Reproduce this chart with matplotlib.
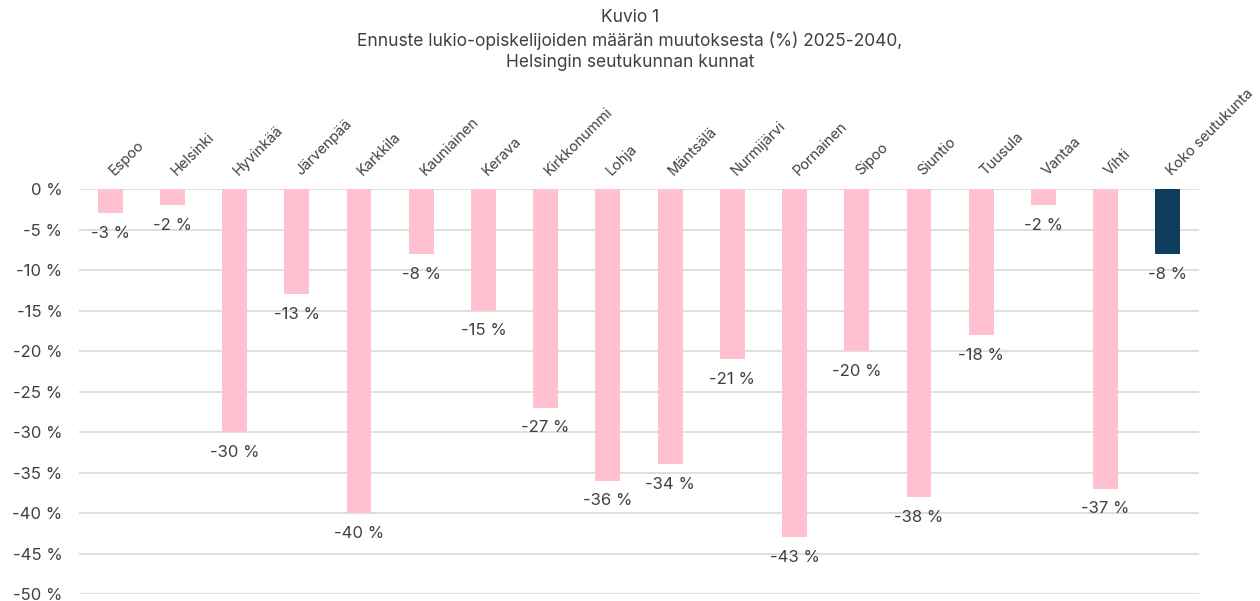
import matplotlib.pyplot as plt
import numpy as np

kunnat = ['Espoo', 'Helsinki', 'Hyvinkää', 'Järvenpää', 'Karkkila', 'Kauniainen',
          'Kerava', 'Kirkkonummi', 'Lohja', 'Mäntsälä', 'Nurmijärvi', 'Pornainen',
          'Sipoo', 'Siuntio', 'Tuusula', 'Vantaa', 'Vihti', 'Koko seutukunta']
muutos = [-3, -2, -30, -13, -40, -8, -15, -27, -36, -34, -21, -43, -20, -38, -18, -2, -37, -8]
yticks = [0, -5, -10, -15, -20, -25, -30, -35, -40, -45, -50]

plt.rcParams['font.family'] = ['Inter', 'DejaVu Sans']
txt = '#404040'

fig = plt.figure(figsize=(12.6, 6.01), dpi=100)
ax = fig.add_axes([0.0627, 0.0116, 0.8889, 0.6739])

x = np.arange(len(kunnat))
colors = ['#ffc0cf'] * (len(kunnat) - 1) + ['#0f3d5e']
ax.bar(x, muutos, width=0.4, color=colors, zorder=2)

ax.set_xlim(-0.5, len(kunnat) - 0.5)
ax.set_ylim(-50, 0)
ax.set_yticks(yticks)
ax.set_yticklabels([f'{v} %' for v in yticks], fontsize=12, color=txt)
ax.tick_params(axis='y', length=0, pad=12)
ax.set_xticks([])
for s in ax.spines.values():
    s.set_visible(False)
ax.grid(axis='y', color='#d9d9d9', linewidth=1.2, zorder=0)
ax.set_axisbelow(True)

for i, v in enumerate(muutos):
    ax.text(i, v - 2.5, f'{v} %', ha='center', va='center', fontsize=12, color=txt)
    ax.text(i + 0.1, 1.3, kunnat[i], rotation=45, rotation_mode='anchor',
            ha='left', va='bottom', fontsize=10.5, color=txt)

fig.text(0.5, 0.985, 'Kuvio 1\nEnnuste lukio-opiskelijoiden määrän muutoksesta (%) 2025-2040,\nHelsingin seutukunnan kunnat',
         ha='center', va='top', fontsize=12.5, color=txt, linespacing=1.35)

fig.savefig('out.png', dpi=100)
